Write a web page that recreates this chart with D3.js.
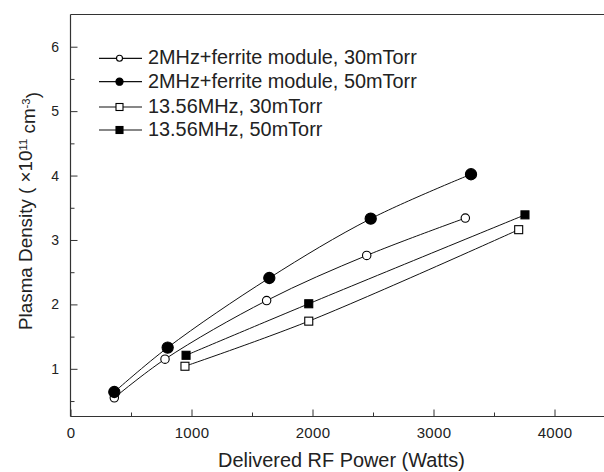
<!DOCTYPE html>
<html><head><meta charset="utf-8">
<script src="https://cdn.jsdelivr.net/npm/d3@7"></script>
<style>body{margin:0;background:#fff;} svg{display:block;font-family:"Liberation Sans",Arial,sans-serif;}</style>
</head><body>
<svg id="c" width="604" height="472"></svg>
<script>
const seriesNames = ["2MHz+ferrite module, 30mTorr","2MHz+ferrite module, 50mTorr","13.56MHz, 30mTorr","13.56MHz, 50mTorr"];
const seriesShapes = ["circle","circle","square","square"];
const seriesFilled = [false,true,false,true];
const ferrite30X = [362, 781, 1621, 2448, 3263];
const ferrite30Y = [0.55, 1.15, 2.06, 2.76, 3.34];
const ferrite50X = [362, 803, 1643, 2481, 3310];
const ferrite50Y = [0.64, 1.33, 2.41, 3.33, 4.02];
const mhz30X = [946, 1969, 3704];
const mhz30Y = [1.04, 1.74, 3.16];
const mhz50X = [955, 1969, 3756];
const mhz50Y = [1.21, 2.01, 3.39];
const xTicks = [0, 1000, 2000, 3000, 4000];
const xMinorTicks = [500, 1500, 2500, 3500];
const yTicks = [1, 2, 3, 4, 5, 6];
const yMinorTicks = [0.5, 1.5, 2.5, 3.5, 4.5, 5.5];

const seriesX = [ferrite30X, ferrite50X, mhz30X, mhz50X];
const seriesY = [ferrite30Y, ferrite50Y, mhz30Y, mhz50Y];

const svg = d3.select("#c");
const L = 70.5, T = 14.5, B = 416.5;
const x = d3.scaleLinear().domain([0, 4400]).range([L, L + 4400*0.121]);
const y = d3.scaleLinear().domain([0.26, 6.5]).range([B, T]);
const FONT = '"Liberation Sans",Arial,sans-serif';

function fit(sel, target) {
  const w = sel.node().getComputedTextLength();
  const f = parseFloat(sel.attr("font-size"));
  sel.attr("font-size", f * target / w);
}

// frame top line
svg.append("line").attr("x1", L).attr("x2", 604).attr("y1", T).attr("y2", T)
  .attr("stroke", "#333").attr("stroke-width", 1.2);

const xAxis = svg.append("g").attr("transform", `translate(0,${B})`)
  .call(d3.axisBottom(x).tickValues(xTicks).tickSize(-7).tickPadding(11).tickFormat(d3.format("d")));
const xMinor = svg.append("g").attr("transform", `translate(0,${B})`)
  .call(d3.axisBottom(x).tickValues(xMinorTicks).tickSize(-4).tickFormat(""));
const yAxis = svg.append("g").attr("transform", `translate(${L},0)`)
  .call(d3.axisLeft(y).tickValues(yTicks).tickSize(-7).tickPadding(11.5).tickFormat(d3.format("d")));
const yMinor = svg.append("g").attr("transform", `translate(${L},0)`)
  .call(d3.axisLeft(y).tickValues(yMinorTicks).tickSize(-4).tickFormat(""));
[xAxis, xMinor, yAxis, yMinor].forEach(g => {
  g.select(".domain").attr("stroke", "#333").attr("stroke-width", 1.2);
  g.selectAll(".tick line").attr("stroke", "#333");
  g.selectAll("text").attr("fill", "#222").attr("font-family", FONT);
});
xAxis.selectAll("text").attr("font-size", 15).attr("letter-spacing", 0.3);
yAxis.selectAll("text").attr("font-size", 14);
xAxis.select(".domain").attr("d", `M${L},0H604`);
xMinor.select(".domain").remove();
yAxis.select(".domain").attr("d", `M0,${B}V${T}`);
yMinor.select(".domain").remove();

// axis titles
const xt = svg.append("text").attr("x", 341.5).attr("y", 467).attr("text-anchor", "middle")
  .attr("font-size", 19).attr("fill", "#222").text("Delivered RF Power (Watts)");
fit(xt, 247);
const yt = svg.append("text").attr("transform", "translate(32,211) rotate(-90)")
  .attr("text-anchor", "middle").attr("font-size", 18).attr("fill", "#222");
yt.append("tspan").text("Plasma Density ( ×10");
yt.append("tspan").attr("font-size", "0.6em").attr("dy", "-0.45em").text("11");
yt.append("tspan").attr("dy", "0.45em").text(" cm");
yt.append("tspan").attr("font-size", "0.6em").attr("dy", "-0.45em").text("-3");
yt.append("tspan").attr("dy", "0.45em").text(")");
fit(yt, 238);

const line = d3.line().x(d => x(d[0])).y(d => y(d[1])).curve(d3.curveCatmullRom.alpha(0.5));

function marker(g, shape, filled, cx, cy, big) {
  if (shape === "circle") {
    const r = big ? (filled ? 5.6 : 4.2) : (filled ? 3.6 : 3);
    g.append("circle").attr("cx", cx).attr("cy", cy).attr("r", r)
      .attr("fill", filled ? "#000" : "#fff").attr("stroke", "#000").attr("stroke-width", 1.1);
  } else {
    const s = big ? 8 : 7;
    g.append("rect").attr("x", cx - s/2).attr("y", cy - s/2).attr("width", s).attr("height", s)
      .attr("fill", filled ? "#000" : "#fff").attr("stroke", "#000").attr("stroke-width", 1.1);
  }
}

seriesNames.forEach((name, i) => {
  const pts = seriesX[i].map((v, j) => [v, seriesY[i][j]]);
  const g = svg.append("g");
  g.append("path").datum(pts).attr("d", line).attr("fill", "none").attr("stroke", "#111").attr("stroke-width", 1);
  pts.forEach(p => marker(g, seriesShapes[i], seriesFilled[i], x(p[0]), y(p[1]), true));
});

// legend
const legY = [58.3, 81.7, 107, 130];
const legTexts = [];
seriesNames.forEach((name, i) => {
  const g = svg.append("g");
  g.append("line").attr("x1", 99).attr("x2", 142).attr("y1", legY[i]).attr("y2", legY[i]).attr("stroke", "#111").attr("stroke-width", 1.2);
  marker(g, seriesShapes[i], seriesFilled[i], 119.5, legY[i], false);
  legTexts.push(g.append("text").attr("x", 148).attr("y", legY[i] + 6).attr("font-size", 17).attr("fill", "#222").text(name));
});
// size legend font so "13.56MHz, 30mTorr" spans ~174px, as in the reference
const w = legTexts[2].node().getComputedTextLength();
const lf = 17 * 174.5 / w;
legTexts.forEach(t => t.attr("font-size", lf));
</script>
</body></html>
